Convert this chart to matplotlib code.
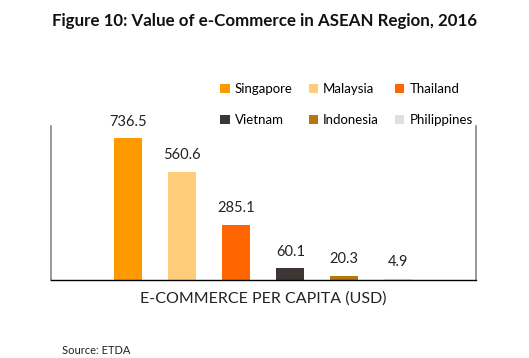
import matplotlib.pyplot as plt

countries = ["Singapore", "Malaysia", "Thailand", "Vietnam", "Indonesia", "Philippines"]
values = [736.5, 560.6, 285.1, 60.1, 20.3, 4.9]
colors = ["#FF9900", "#FFCC7A", "#FF6600", "#3E3535", "#B8760E", "#E3DEDE"]

plt.rcParams["font.family"] = ["Lato", "DejaVu Sans"]

fig = plt.figure(figsize=(5.29, 3.58), dpi=100)
ax = fig.add_axes([0.0964, 0.2179, 0.8034, 0.4301])

x = list(range(len(countries)))
bars = ax.bar(x, values, width=0.52, color=colors)
for xi, v in zip(x, values):
    ax.annotate(f"{v:.1f}", (xi, v), xytext=(0, 7), textcoords="offset points",
                ha="center", va="bottom", fontsize=10.5, color="#222222")

ax.set_xlim(-1.435, 5 + 1.44)
ax.set_ylim(0, 800)
ax.set_xticks([])
ax.set_yticks([])
ax.spines["top"].set_visible(False)
for side in ["left", "right"]:
    ax.spines[side].set_color("#888888")
    ax.spines[side].set_linewidth(1.2)
ax.spines["bottom"].set_color("black")
ax.spines["bottom"].set_linewidth(1.0)

ax.set_xlabel("E-COMMERCE PER CAPITA (USD)", fontsize=11.5, color="#222222", labelpad=8)

# legend fills column by column, so reorder to get rows of three
order = [0, 3, 1, 4, 2, 5]
fig.legend([bars[i] for i in order], [countries[i] for i in order], ncol=3,
           loc="upper left", bbox_to_anchor=(0.394, 0.802),
           frameon=False, fontsize=9.5, handlelength=0.7, handleheight=0.7,
           handletextpad=0.4, columnspacing=1.2, labelspacing=1.45)

fig.text(0.5, 0.94, "Figure 10: Value of e-Commerce in ASEAN Region, 2016",
         ha="center", va="center", fontsize=12.2, fontweight="bold", color="#111111")
fig.text(0.117, 0.005, "Source: ETDA", ha="left", va="bottom", fontsize=8, color="#222222")

fig.savefig("out.png", dpi=100)
